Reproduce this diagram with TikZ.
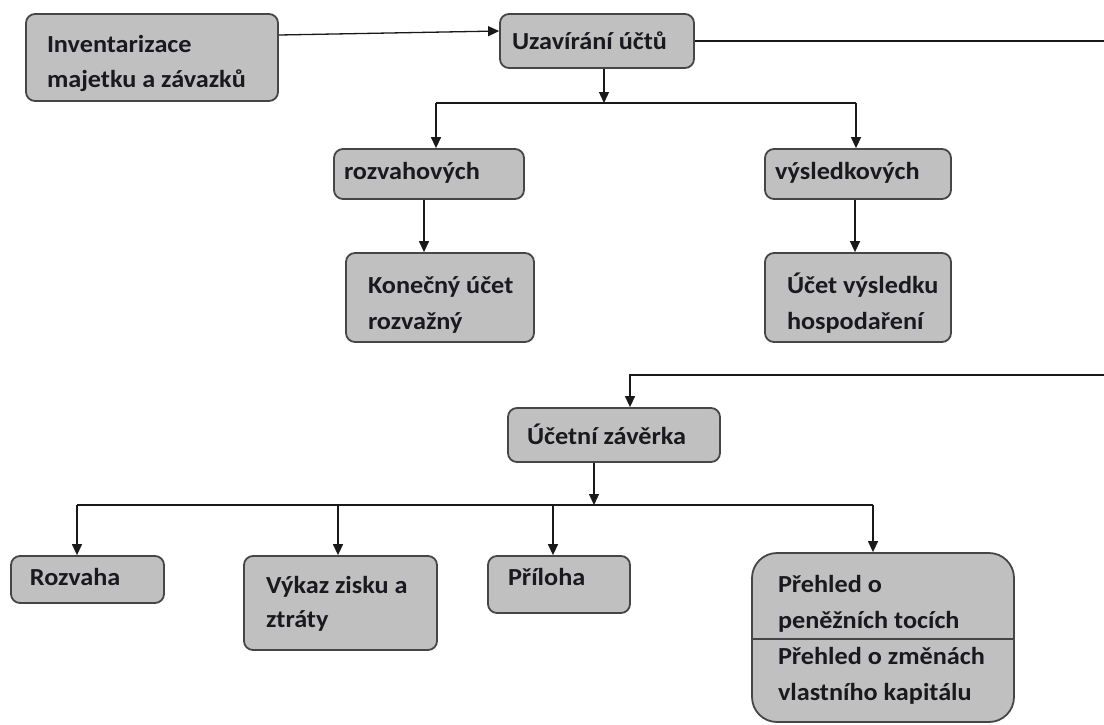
\documentclass[tikz,border=0pt]{standalone}
\usepackage{fontspec}
\setmainfont{Carlito}[FakeStretch=1.07]
\usetikzlibrary{arrows.meta}
\definecolor{boxfill}{RGB}{192,192,192}
\definecolor{boxline}{RGB}{70,70,70}
\definecolor{conn}{RGB}{25,25,25}
\definecolor{txt}{RGB}{25,25,30}
% width, left padding, baselineskip, lines
\newcommand\bxtxt[4]{\fontsize{24.5}{#3}\selectfont\makebox[#1pt][l]{\hspace*{#2pt}\begin{tabular}[t]{@{}l@{}}#4\end{tabular}}}
\tikzset{
  boxnode/.style={draw=boxline, fill=boxfill, line width=1.8pt, rounded corners=9pt,
    inner xsep=0pt, inner ysep=0pt, text=txt, font=\bfseries},
  arr/.style={draw=conn, line width=1.3pt, -{Triangle[length=11pt,width=10pt]}},
  ln/.style={draw=conn, line width=1.3pt},
  divider/.style={draw=boxline, line width=1.5pt},
}
\begin{document}
\begin{tikzpicture}[x=1pt,y=-1pt]
\fill[white] (0,0) rectangle (1104,724);
\useasboundingbox (0,0) rectangle (1104,724);

% boxes
\node[boxnode, minimum height=87pt, text height=0pt, text depth=11pt] (inv) at (152,57.5)
  {\bxtxt{252}{21}{35}{Inventarizace\\majetku a závazků}};
\node[boxnode, minimum height=54pt, text height=16pt, text depth=0pt] (uz) at (597,41)
  {\bxtxt{194}{12}{33}{Uzavírání účtů}};
\node[boxnode, minimum height=50pt, text height=10pt, text depth=0pt] (roz) at (429,174)
  {\bxtxt{190}{10}{33}{rozvahových}};
\node[boxnode, minimum height=50pt, text height=10pt, text depth=0pt] (vys) at (858,174)
  {\bxtxt{186}{10}{33}{výsledkových}};
\node[boxnode, minimum height=89pt, text height=0pt, text depth=9pt] (kon) at (440,297.5)
  {\bxtxt{188}{22}{36}{Konečný účet\\rozvažný}};
\node[boxnode, minimum height=89pt, text height=0pt, text depth=9pt] (ucv) at (858,297.5)
  {\bxtxt{186}{22}{36}{Účet výsledku\\hospodaření}};
\node[boxnode, minimum height=54pt, text height=18pt, text depth=0pt] (zav) at (614,435)
  {\bxtxt{212}{19}{33}{Účetní závěrka}};
\node[boxnode, minimum height=47pt, text height=11pt, text depth=0pt] (rozv) at (87.5,579.5)
  {\bxtxt{153}{19}{33}{Rozvaha}};
\node[boxnode, minimum height=94pt, text height=0pt, text depth=20pt] (vyk) at (340.5,603)
  {\bxtxt{193}{22}{34}{Výkaz zisku a\\ztráty}};
\node[boxnode, minimum height=57pt, text height=1pt, text depth=0pt] (pri) at (559,584.5)
  {\bxtxt{142}{20}{33}{Příloha}};
\node[boxnode, minimum height=169pt, rounded corners=25pt, text height=0pt, text depth=91pt] (pre) at (883,637.5)
  {\bxtxt{262}{26}{36}{Přehled o\\peněžních tocích\\Přehled o změnách\\vlastního kapitálu}};
\coordinate (dv) at (0,639);
\draw[divider] (pre.west |- dv) -- (pre.east |- dv);

% connectors, top part
\coordinate (b1) at (0,35);
\coordinate (b2) at (0,31);
\draw[arr] (inv.east |- b1) -- (uz.west |- b2);

\coordinate (s1) at (604,103);
\coordinate (a1) at (436,103);
\coordinate (a2) at (856,103);
\draw[arr] (s1 |- uz.south) -- (s1);
\draw[ln] (a1) -- (a2);
\draw[arr] (a1) -- (a1 |- roz.north);
\draw[arr] (a2) -- (a2 |- vys.north);

\coordinate (a3) at (424,0);
\coordinate (a4) at (855,0);
\draw[arr] (a3 |- roz.south) -- (a3 |- kon.north);
\draw[arr] (a4 |- vys.south) -- (a4 |- ucv.north);

% long connector from Uzavirani to Ucetni zaverka (vertical part lies beyond the edge)
\coordinate (r1) at (1114,0);
\coordinate (zin) at (630,375);
\draw[arr] (uz.east) -- (uz.east -| r1) -- (r1 |- zin) -- (zin) -- (zin |- zav.north);

% bottom part
\coordinate (s2) at (594,505);
\coordinate (c1) at (77,505);
\coordinate (c2) at (338,505);
\coordinate (c3) at (553,505);
\coordinate (c4) at (873,505);
\draw[arr] (s2 |- zav.south) -- (s2);
\draw[ln] (c1) -- (c4);
\draw[arr] (c1) -- (c1 |- rozv.north);
\draw[arr] (c2) -- (c2 |- vyk.north);
\draw[arr] (c3) -- (c3 |- pri.north);
\draw[arr] (c4) -- (c4 |- pre.north);
\end{tikzpicture}
\end{document}
